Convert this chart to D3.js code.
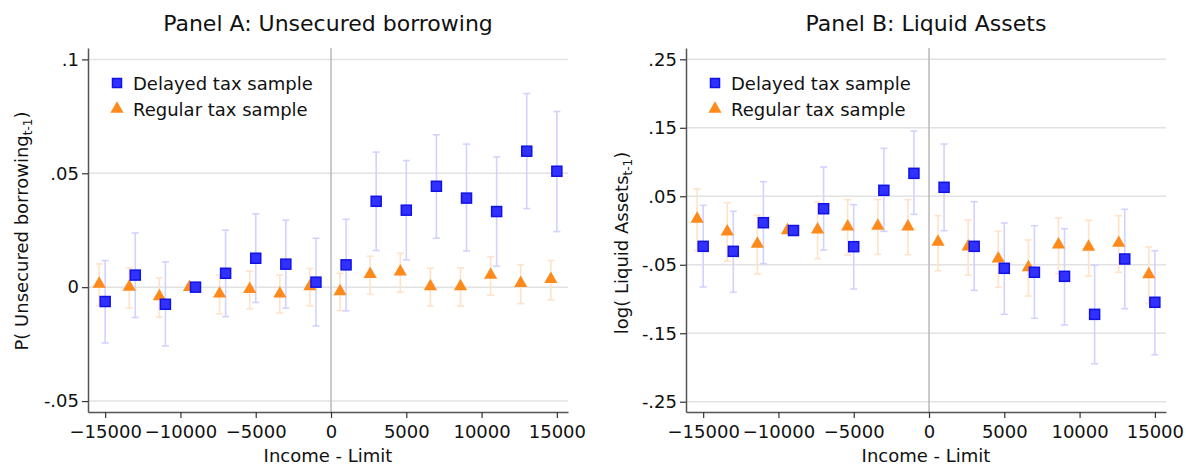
<!DOCTYPE html>
<html>
<head>
<meta charset="utf-8">
<script src="https://cdn.jsdelivr.net/npm/d3@7"></script>
<style>
  body { margin: 0; background: #fff; }
  svg { font-family: "DejaVu Sans", sans-serif; }
</style>
</head>
<body>
<div id="chart"></div>
<script>
// posiciones en x (Income - Limit)
const xDelayed = [-15000, -13000, -11000, -9000, -7000, -5000, -3000, -1000,
  1000, 3000, 5000, 7000, 9000, 11000, 13000, 15000];
const xRegular = [-15400, -13400, -11400, -9400, -7400, -5400, -3400, -1400,
  600, 2600, 4600, 6600, 8600, 10600, 12600, 14600];

// Panel A: prestamos no garantizados
const borrowDelayed = [-0.0063, 0.0053, -0.0075, 0, 0.0061, 0.0127, 0.0101, 0.0022,
  0.0098, 0.0377, 0.0338, 0.0443, 0.0391, 0.0332, 0.0597, 0.0509];
const borrowDelayedHi = [0.0117, 0.0238, 0.0111, null, 0.025, 0.0322, 0.0294, 0.0215,
  0.0298, 0.0593, 0.0556, 0.0669, 0.0628, 0.0572, 0.085, 0.0771];
const borrowDelayedLo = [-0.0245, -0.0133, -0.0258, null, -0.0129, -0.0067, -0.0092, -0.017,
  -0.0104, 0.0161, 0.012, 0.0215, 0.0159, 0.0092, 0.0345, 0.0244];
const borrowRegular = [0.0014, 0.0001, -0.0041, 0, -0.0029, -0.0009, -0.0029, 0.0003,
  -0.0019, 0.0057, 0.0068, 0.0003, 0.0003, 0.0054, 0.0018, 0.0035];
const borrowRegularHi = [0.0102, 0.0085, 0.0041, null, 0.0053, 0.007, 0.0053, 0.0082,
  0.0061, 0.0136, 0.0149, 0.0083, 0.0085, 0.0134, 0.0099, 0.0117];
const borrowRegularLo = [-0.0081, -0.0092, -0.0132, null, -0.0117, -0.0095, -0.0113, -0.0082,
  -0.0103, -0.0031, -0.0022, -0.0083, -0.0083, -0.0035, -0.0072, -0.0056];

// Panel B: activos liquidos
const assetsDelayed = [-0.0231, -0.0304, 0.0114, 0, 0.0318, -0.0236, 0.0587, 0.0835,
  0.0631, -0.0231, -0.0552, -0.061, -0.0669, -0.1224, -0.0416, -0.1048];
const assetsDelayedHi = [0.0368, 0.028, 0.0713, null, 0.0927, 0.0377, 0.12, 0.1453,
  0.1263, 0.0421, 0.011, 0.007, 0.0026, -0.0508, 0.031, -0.0295];
const assetsDelayedLo = [-0.0825, -0.0902, -0.0485, null, -0.0285, -0.0854, -0.0012, 0.0236,
  -0.0003, -0.0873, -0.1224, -0.1282, -0.138, -0.1945, -0.1142, -0.1814];
const assetsRegular = [0.0168, -0.0017, -0.0197, 0, 0.0012, 0.0056, 0.0066, 0.0056,
  -0.0168, -0.0236, -0.0411, -0.0538, -0.0207, -0.0241, -0.0183, -0.064];
const assetsRegularHi = [0.0606, 0.0406, 0.0222, null, 0.0416, 0.045, 0.045, 0.045,
  0.0216, 0.0153, -0.0012, -0.0139, 0.0182, 0.0149, 0.0216, -0.0241];
const assetsRegularLo = [-0.0289, -0.045, -0.0635, null, -0.0411, -0.0358, -0.0348, -0.0353,
  -0.0587, -0.065, -0.083, -0.0956, -0.063, -0.0664, -0.061, -0.1069];

// ticks
const xTicks = [-15000, -10000, -5000, 0, 5000, 10000, 15000];
const yTicksA = [-0.05, 0, 0.05, 0.1];
const yLabelsA = ["-.05", "0", ".05", ".1"];
const yTicksB = [-0.25, -0.15, -0.05, 0.05, 0.15, 0.25];
const yLabelsB = ["-.25", "-.15", "-.05", ".05", ".15", ".25"];

const seriesNames = ["Delayed tax sample", "Regular tax sample"];

const width = 1186, height = 466;
const blue = "#3030ff", blueEdge = "#1212e6", blueBar = "#d2d2ff";
const orange = "#ff8a1c", orangeBar = "#ffe2c8";

const svg = d3.select("#chart").append("svg")
  .attr("width", width)
  .attr("height", height);

const toRows = (xs, ys, lo, hi) => xs.map((x, i) => ({ x, y: ys[i], lo: lo[i], hi: hi[i] }));

const drawPanel = (cfg) => {
  const x = d3.scaleLinear().domain([-16140, 15740]).range([cfg.left, cfg.left + 480]);
  const y = d3.scaleLinear().domain(cfg.yDomain).range([412, 48]);
  const g = svg.append("g");

  // lineas de cuadricula
  g.selectAll(".grid").data(cfg.yTicks).enter().append("line")
    .attr("x1", x.range()[0]).attr("x2", x.range()[1])
    .attr("y1", (d) => y(d)).attr("y2", (d) => y(d))
    .attr("stroke", "#e2e2e2").attr("stroke-width", 1.5);

  // linea vertical en cero
  g.append("line")
    .attr("x1", x(0)).attr("x2", x(0))
    .attr("y1", 48).attr("y2", 412)
    .attr("stroke", "#bdbdbd").attr("stroke-width", 1.6);

  // ejes
  const xAxis = g.append("g")
    .attr("transform", "translate(0,412)")
    .call(d3.axisBottom(x).tickValues(xTicks).tickSize(6).tickSizeOuter(0).tickFormat(d3.format("d")));
  const yAxis = g.append("g")
    .attr("transform", `translate(${cfg.left},0)`)
    .call(d3.axisLeft(y).tickValues(cfg.yTicks).tickSize(6).tickSizeOuter(0)
      .tickFormat((d, i) => cfg.yLabels[i]));
  [xAxis, yAxis].forEach((a) => {
    a.select(".domain").attr("stroke", "#555").attr("stroke-width", 1.5);
    a.selectAll(".tick line").attr("stroke", "#333").attr("stroke-width", 1.2);
    a.selectAll("text").attr("font-family", "DejaVu Sans").attr("font-size", 18).attr("fill", "#111");
  });
  xAxis.selectAll("text").attr("dy", "0.95em");
  yAxis.selectAll("text").attr("x", -9);

  const series = [
    { rows: toRows(xRegular, cfg.reg, cfg.regLo, cfg.regHi), bar: orangeBar, kind: "tri" },
    { rows: toRows(xDelayed, cfg.del, cfg.delLo, cfg.delHi), bar: blueBar, kind: "sq" },
  ];

  // barras de error
  series.forEach((s) => {
    const rows = s.rows.filter((d) => d.lo !== null);
    const eb = g.append("g");
    eb.selectAll(".v").data(rows).enter().append("line")
      .attr("x1", (d) => x(d.x)).attr("x2", (d) => x(d.x))
      .attr("y1", (d) => y(d.lo)).attr("y2", (d) => y(d.hi))
      .attr("stroke", s.bar).attr("stroke-width", 1.6);
    ["lo", "hi"].forEach((k) => {
      eb.selectAll(".c" + k).data(rows).enter().append("line")
        .attr("x1", (d) => x(d.x) - 3.5).attr("x2", (d) => x(d.x) + 3.5)
        .attr("y1", (d) => y(d[k])).attr("y2", (d) => y(d[k]))
        .attr("stroke", s.bar).attr("stroke-width", 1.6);
    });
  });

  // marcadores
  const tri = d3.symbol().type(d3.symbolTriangle).size(76);
  series.forEach((s) => {
    if (s.kind === "tri") {
      g.append("g").selectAll("path").data(s.rows).enter().append("path")
        .attr("d", tri)
        .attr("transform", (d) => `translate(${x(d.x)},${y(d.y)})`)
        .attr("fill", orange);
    } else {
      g.append("g").selectAll("rect").data(s.rows).enter().append("rect")
        .attr("x", (d) => x(d.x) - 5).attr("y", (d) => y(d.y) - 5)
        .attr("width", 10).attr("height", 10)
        .attr("fill", blue).attr("stroke", blueEdge).attr("stroke-width", 1.5);
    }
  });

  // leyenda
  const lg = g.append("g").attr("transform", `translate(${cfg.left + 29},0)`);
  lg.append("rect").attr("x", -4.5).attr("y", 78.5).attr("width", 9).attr("height", 9)
    .attr("fill", blue).attr("stroke", blueEdge).attr("stroke-width", 1.5);
  lg.append("path").attr("d", tri).attr("transform", "translate(0,109)").attr("fill", orange);
  lg.selectAll("text").data(seriesNames).enter().append("text")
    .attr("x", 16).attr("y", (d, i) => 90 + i * 26)
    .attr("font-size", 18).attr("fill", "#111").text((d) => d);

  // titulo
  g.append("text")
    .attr("x", cfg.left + 240).attr("y", 31)
    .attr("text-anchor", "middle").attr("font-size", 22).attr("fill", "#111")
    .text(cfg.title);

  // etiqueta eje x
  g.append("text")
    .attr("x", cfg.left + 240).attr("y", 462)
    .attr("text-anchor", "middle").attr("font-size", 18).attr("fill", "#111")
    .text("Income - Limit");

  // etiqueta eje y con subindice
  const yl = g.append("text")
    .attr("transform", `translate(${cfg.yLabelX},${cfg.yLabelY}) rotate(-90)`)
    .attr("text-anchor", "middle").attr("font-size", 18).attr("fill", "#111");
  yl.append("tspan").text(cfg.yLabel);
  yl.append("tspan").attr("font-size", 12).attr("dy", 4).text("t-1");
  yl.append("tspan").attr("dy", -4).text(")");
};

drawPanel({
  left: 88, title: "Panel A: Unsecured borrowing",
  yDomain: [-0.0548, 0.105], yTicks: yTicksA, yLabels: yLabelsA,
  yLabel: "P( Unsecured borrowing", yLabelX: 28, yLabelY: 231,
  del: borrowDelayed, delLo: borrowDelayedLo, delHi: borrowDelayedHi,
  reg: borrowRegular, regLo: borrowRegularLo, regHi: borrowRegularHi,
});

drawPanel({
  left: 686, title: "Panel B: Liquid Assets",
  yDomain: [-0.265, 0.2665], yTicks: yTicksB, yLabels: yLabelsB,
  yLabel: "log( Liquid Assets", yLabelX: 628, yLabelY: 243,
  del: assetsDelayed, delLo: assetsDelayedLo, delHi: assetsDelayedHi,
  reg: assetsRegular, regLo: assetsRegularLo, regHi: assetsRegularHi,
});
</script>
</body>
</html>
